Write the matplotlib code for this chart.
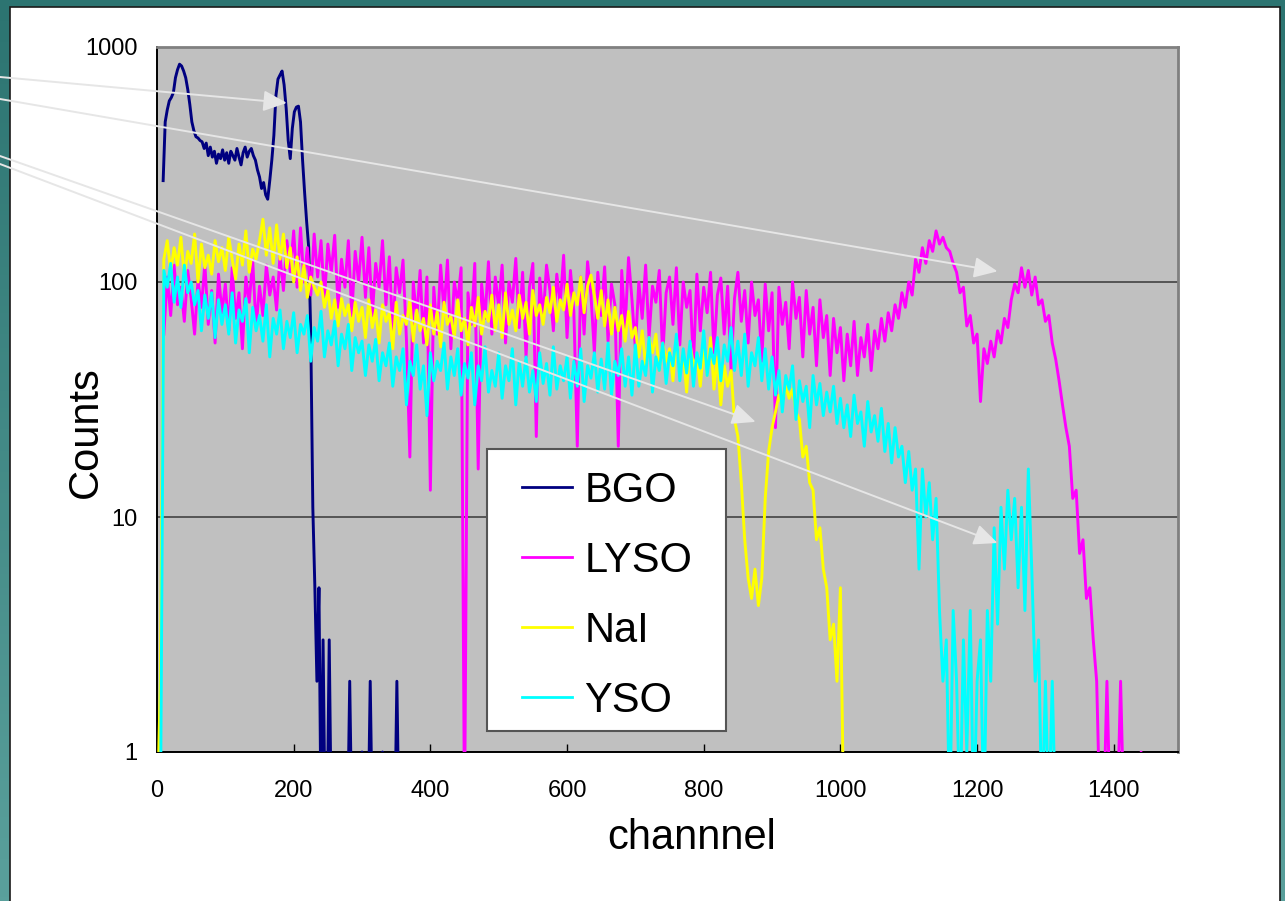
import numpy as np
import matplotlib
matplotlib.use('Agg')
import matplotlib.pyplot as plt
from matplotlib.patches import Rectangle
from matplotlib.colors import LinearSegmentedColormap
from matplotlib.ticker import NullLocator

plt.rcParams['font.family'] = ['Liberation Sans', 'DejaVu Sans']

# spectra (counts per channel, 0 counts -> 0.5 so the line drops off the axis)
bgo_start, bgo_step = 9, 3
bgo_counts = [270, 480, 540, 590, 610, 640, 740, 800, 845, 830,
              790, 740, 660, 570, 480, 440, 415, 410, 400, 395,
              370, 390, 345, 375, 340, 360, 320, 350, 335, 365,
              330, 355, 320, 360, 345, 330, 370, 340, 315, 355,
              375, 340, 360, 370, 345, 330, 300, 280, 250, 265,
              235, 225, 270, 330, 420, 620, 730, 760, 790, 690,
              550, 400, 335, 450, 530, 555, 560, 480, 330, 240,
              180, 140, 60, 11, 5, 2, 5, 0.5, 3, 0.5,
              0.5, 3, 0.5, 0.5, 0.5, 0.5, 0.5, 0.5, 0.5, 0.5,
              0.5, 2, 0.5, 0.5, 0.5, 0.5, 0.5, 1, 0.5, 0.5,
              0.5, 2, 0.5, 0.5, 0.5, 0.5, 0.5, 1, 0.5, 0.5,
              0.5, 0.5, 0.5, 0.5, 2, 0.5, 0.5, 0.5]

lyso_start, lyso_step = 10, 5
lyso_counts = [60, 105, 72, 118, 80, 95, 68, 112, 85, 60, 102, 78, 120, 66, 92, 55, 108, 74, 98, 62,
               115, 70, 90, 52, 105, 82, 124, 64, 96, 72, 118, 88, 105, 76, 130, 92, 150, 110, 165, 95,
               170, 100, 140, 88, 160, 105, 150, 84, 145, 110, 158, 78, 125, 95, 150, 72, 135, 100, 155, 86,
               140, 72, 120, 95, 150, 80, 128, 60, 115, 90, 124, 57, 18, 100, 70, 112, 55, 105, 13, 95,
               60, 118, 75, 124, 52, 100, 82, 115, 0.5, 90, 66, 120, 16, 98, 70, 122, 60, 105, 78, 118,
               55, 100, 82, 126, 64, 110, 48, 95, 120, 22, 104, 70, 118, 92, 62, 108, 80, 130, 58, 112,
               75, 20, 105, 60, 122, 88, 50, 110, 72, 116, 56, 98, 80, 20, 112, 64, 127, 84, 52, 100,
               70, 118, 58, 96, 82, 112, 48, 90, 105, 66, 115, 54, 100, 78, 92, 45, 108, 62, 95, 74,
               110, 50, 88, 104, 60, 96, 42, 85, 110, 68, 92, 55, 100, 72, 84, 46, 98, 62, 90, 24,
               95, 66, 82, 52, 100, 70, 86, 48, 92, 60, 78, 44, 84, 58, 72, 40, 70, 50, 64, 38,
               60, 44, 68, 40, 58, 48, 66, 42, 62, 52, 70, 56, 74, 62, 80, 70, 90, 78, 100, 88,
               125, 110, 140, 120, 150, 135, 165, 145, 155, 140, 135, 120, 110, 90, 95, 65, 72, 55, 60, 31,
               52, 45, 56, 48, 62, 55, 70, 64, 84, 98, 90, 115, 95, 112, 88, 105, 80, 84, 68, 72,
               55, 47, 38, 30, 24, 20, 12, 13, 7, 8, 4.5, 5, 3, 2, 0.5, 0.5, 2, 0.5, 0.5, 0.5,
               2, 0.5, 0.5, 0.5, 0.5, 0.5, 1, 0.5, 0.5]

nai_start, nai_step = 0, 5
nai_counts = [0.5, 2, 125, 150, 110, 140, 118, 155, 105, 135, 120, 160, 100, 145, 115, 130, 108, 150, 122, 140,
              112, 155, 125, 103, 145, 118, 165, 110, 138, 125, 150, 185, 130, 170, 120, 175, 125, 160, 115, 140,
              100, 128, 92, 118, 86, 105, 95, 88, 100, 78, 92, 70, 84, 65, 85, 72, 80, 62, 82, 68,
              78, 58, 84, 64, 76, 55, 80, 68, 74, 52, 82, 60, 72, 66, 84, 56, 76, 62, 70, 54,
              80, 60, 75, 53, 82, 66, 72, 58, 84, 62, 70, 54, 78, 65, 86, 60, 75, 68, 88, 62,
              80, 58, 90, 66, 76, 62, 88, 70, 82, 60, 92, 72, 80, 66, 86, 74, 95, 68, 84, 76,
              98, 72, 90, 80, 105, 74, 96, 107, 88, 70, 92, 65, 84, 60, 78, 62, 72, 56, 75, 58,
              64, 48, 62, 44, 58, 50, 60, 42, 55, 46, 52, 38, 58, 40, 50, 34, 55, 44, 48, 36,
              52, 40, 58, 35, 48, 30, 44, 36, 42, 26, 22, 14, 8, 5.5, 4.5, 6, 4.2, 5.5, 12, 19,
              24, 28, 33, 30, 36, 32, 35, 28, 26, 18, 20, 14, 13, 8, 9, 6, 5, 3, 3.5, 2,
              5, 0.5, 0.5, 0.5, 0.5]

yso_start, yso_step = 0, 5
yso_counts = [0.5, 0.5, 112, 95, 120, 82, 105, 78, 118, 90, 100, 80, 92, 62, 88, 70, 90, 58, 84, 66,
              80, 60, 90, 55, 76, 68, 85, 50, 78, 62, 72, 56, 80, 48, 70, 60, 76, 52, 68, 58,
              74, 50, 66, 60, 72, 46, 64, 56, 75, 48, 62, 54, 68, 44, 60, 52, 66, 42, 58, 50,
              56, 40, 54, 46, 57, 38, 50, 44, 55, 36, 48, 42, 52, 30, 46, 40, 54, 35, 44, 27,
              50, 38, 46, 42, 55, 35, 48, 40, 52, 33, 45, 39, 50, 30, 44, 38, 53, 34, 42, 36,
              50, 32, 44, 38, 52, 30, 46, 36, 48, 34, 42, 31, 50, 37, 45, 33, 53, 35, 44, 38,
              48, 32, 46, 36, 52, 31, 44, 39, 50, 34, 47, 35, 55, 33, 46, 40, 52, 36, 48, 33,
              54, 36, 46, 40, 58, 34, 48, 42, 55, 37, 50, 44, 60, 38, 52, 41, 56, 36, 50, 43,
              62, 40, 52, 45, 58, 38, 54, 46, 64, 42, 56, 40, 60, 36, 50, 44, 58, 38, 52, 35,
              48, 33, 42, 28, 40, 35, 44, 26, 38, 31, 36, 24, 40, 30, 37, 27, 34, 28, 36, 25,
              32, 24, 30, 22, 33, 25, 28, 20, 31, 23, 27, 21, 29, 19, 25, 17, 24, 18, 20, 14,
              19, 13, 16, 6, 16, 10, 14, 8, 12, 4, 2, 3, 0.5, 4, 2, 0.5, 3, 1, 4, 0.5,
              2, 3, 0.5, 4, 2, 9, 3.5, 11, 6, 13, 8, 12, 5, 11, 4, 16, 6, 2, 3, 0.5,
              2, 0.5, 2, 0.5, 0.5]

series_names = ['BGO', 'LYSO', 'NaI', 'YSO']
series_colors = ['#000080', '#ff00ff', '#ffff00', '#00ffff']
y_ticks = [1, 10, 100, 1000]
x_ticks = [0, 200, 400, 600, 800, 1000, 1200, 1400]

# arrows: tip in (channel, counts), tail at the slide's left edge (figure pixels)
arrow_tips = [(190, 578), (1230, 111), (876, 25.4), (1230, 7.75)]
arrow_tails = [(0, 824), (0, 802), (0, 745), (0, 737)]

series = [(bgo_start, bgo_step, bgo_counts), (lyso_start, lyso_step, lyso_counts),
          (nai_start, nai_step, nai_counts), (yso_start, yso_step, yso_counts)]

fig = plt.figure(figsize=(12.85, 9.01), dpi=100)

# slide background + white panel
bg = fig.add_axes([0, 0, 1, 1])
bg.set_xlim(0, 1285)
bg.set_ylim(0, 901)
bg.axis('off')
grad = np.linspace(0, 1, 256).reshape(-1, 1)
cmap = LinearSegmentedColormap.from_list('slide', ['#5aa09c', '#2c7471'])
bg.imshow(grad, cmap=cmap, extent=[0, 1285, 0, 901], aspect='auto', origin='lower')
bg.add_patch(Rectangle((10, -2), 1270, 896, facecolor='white', edgecolor='#1a1a1a', lw=1.2))

ax = fig.add_axes([157 / 1285, 1 - 752 / 901, 1021 / 1285, 705 / 901])
ax.set_facecolor('#c0c0c0')

lines = []
for (start, step, counts), name, col in zip(series, series_names, series_colors):
    ch = start + step * np.arange(len(counts))
    ln, = ax.plot(ch, counts, color=col, lw=2.1, label=name, zorder=3)
    lines.append(ln)

ax.set_yscale('log')
ax.set_ylim(1, 1000)
ax.set_xlim(0, 1494)
ax.set_yticks(y_ticks)
ax.set_yticklabels([str(v) for v in y_ticks])
ax.yaxis.set_minor_locator(NullLocator())
ax.set_xticks(x_ticks)
ax.tick_params(axis='y', length=0, pad=14, labelsize=17)
ax.tick_params(axis='x', direction='in', length=6, width=1, pad=20, labelsize=17)
ax.yaxis.grid(True, color='#555555', lw=1.4)
ax.set_axisbelow(True)

for s in ['left', 'bottom']:
    ax.spines[s].set_color('black')
    ax.spines[s].set_linewidth(1.4)
for s in ['top', 'right']:
    ax.spines[s].set_color('#808080')
    ax.spines[s].set_linewidth(2)

ax.set_xlabel('channnel', fontsize=30, va='center')
ax.xaxis.set_label_coords(0.524, -0.122)
ax.set_ylabel('Counts', fontsize=30, va='center')
ax.yaxis.set_label_coords(-0.07, 0.454)

# legend box and entries
ax.add_patch(Rectangle((0.3232, 0.0298), 0.2341, 0.4, transform=ax.transAxes,
                       facecolor='white', edgecolor='#555555', lw=1.5, zorder=5))
leg = ax.legend(handles=lines, loc='upper left', bbox_to_anchor=(0.3575, 0.3985),
                frameon=False, fontsize=30, borderpad=0, borderaxespad=0,
                handlelength=1.2, handletextpad=0.3, labelspacing=0.72)
leg.set_zorder(6)
for hl in leg.get_lines():
    hl.set_linewidth(2)

for tip, tail in zip(arrow_tips, arrow_tails):
    ax.annotate('', xy=tip, xycoords='data', xytext=tail, textcoords='figure pixels',
                arrowprops=dict(arrowstyle='-|>,head_length=0.72,head_width=0.32',
                                color='#e6e6e6', lw=1.4, shrinkA=0, shrinkB=0,
                                mutation_scale=20),
                annotation_clip=False, zorder=7)

fig.savefig('out.png', dpi=100)
